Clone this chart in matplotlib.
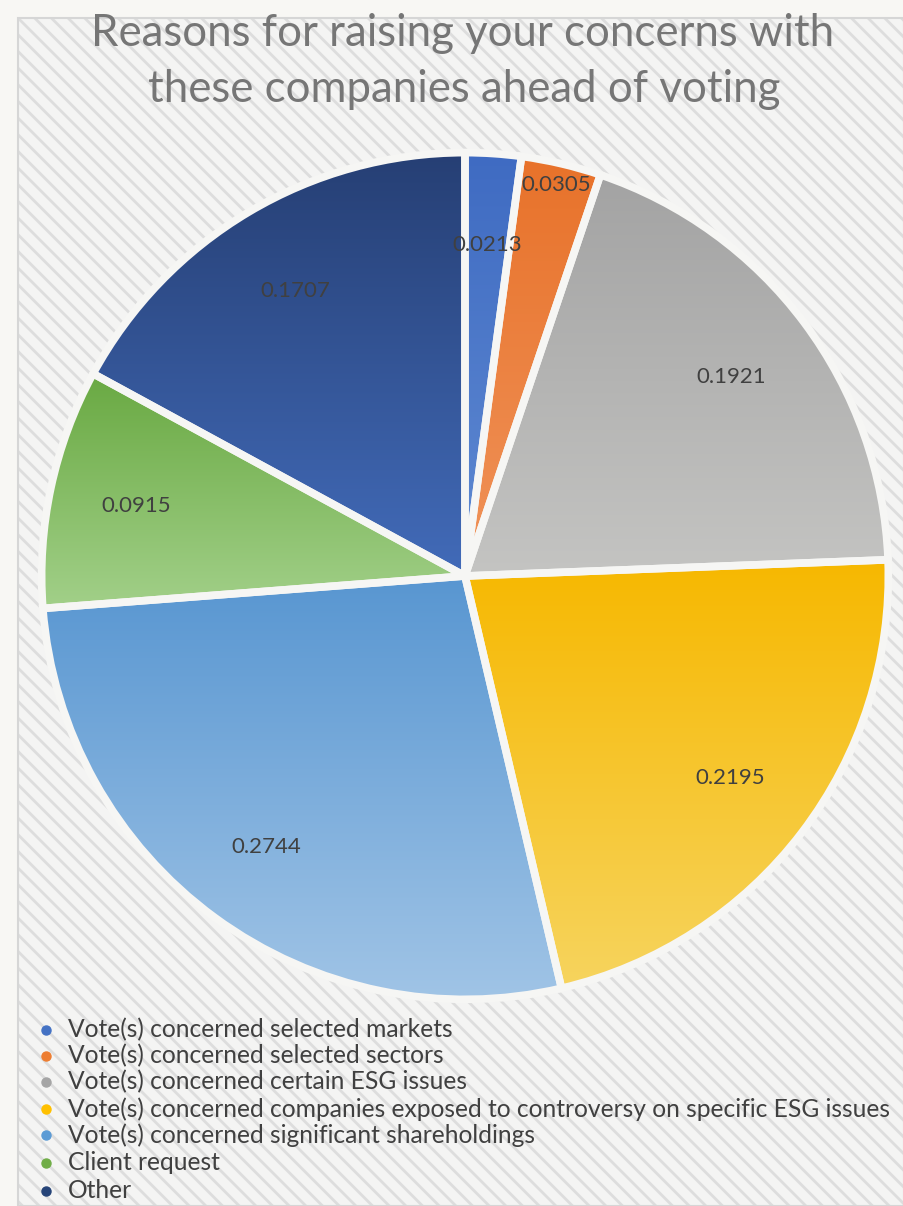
import matplotlib
matplotlib.use("Agg")
import matplotlib.pyplot as plt
import numpy as np
from matplotlib.patches import Rectangle
from matplotlib.colors import LinearSegmentedColormap

plt.rcParams['font.family'] = ['Lato', 'DejaVu Sans']
plt.rcParams['hatch.linewidth'] = 2.0

# Data
categories = [
    "Vote(s) concerned selected markets",
    "Vote(s) concerned selected sectors",
    "Vote(s) concerned certain ESG issues",
    "Vote(s) concerned companies exposed to controversy on specific ESG issues",
    "Vote(s) concerned significant shareholdings",
    "Client request",
    "Other",
]
shares = [0.0213, 0.0305, 0.1921, 0.2195, 0.2744, 0.0915, 0.1707]
value_labels = ["0.0213", "0.0305", "0.1921", "0.2195", "0.2744", "0.0915", "0.1707"]

# Slice colours: (top of gradient, bottom of gradient) and legend swatch
grad_top = ["#3f6bc2", "#e8722a", "#a3a3a3", "#f6b800", "#5896d1", "#69a942", "#263f74"]
grad_bot = ["#5f8ad2", "#f0935a", "#c4c4c2", "#f7d45e", "#a0c4e6", "#a2d089", "#426bb9"]
swatch = ["#4472c4", "#ed7d31", "#a5a5a5", "#ffc000", "#5b9bd5", "#70ad47", "#264478"]

W, H = 904, 1206
fig = plt.figure(figsize=(W / 100, H / 100), dpi=100)
fig.patch.set_facecolor("#f8f7f4")

# Chart area with diagonal stripes
x0, y0 = 18 / W, 0.0
fig.patches.append(Rectangle((x0, y0), 1 - x0, 1 - 18 / H, transform=fig.transFigure,
                             facecolor="#f4f4f3", edgecolor="#dddddd", hatch="\\\\",
                             linewidth=0, zorder=-2))
fig.patches.append(Rectangle((x0, y0), 1 - x0, 1 - 18 / H, transform=fig.transFigure,
                             facecolor="none", edgecolor="#d6d6d6", linewidth=1.5, zorder=-1))

# Title
fig.text(463 / W, 1 - 34 / H, "Reasons for raising your concerns with",
         ha="center", va="center", fontsize=31.5, color="#767676")
fig.text(464 / W, 1 - 89 / H, "these companies ahead of voting",
         ha="center", va="center", fontsize=31.5, color="#767676")

# Pie axes: centre (465, 576) px, radius ~422 px
R = 420
half = 440
cx, cy = 465, 576
ax = fig.add_axes([(cx - half) / W, (H - cy - half) / H, 2 * half / W, 2 * half / H])
ax.set_zorder(2)
ax.axis("off")
ax.patch.set_alpha(0)

wedges, _ = ax.pie(shares, startangle=90, counterclock=False, radius=1.008,
                   colors=swatch,
                   wedgeprops=dict(edgecolor="#f6f6f4", linewidth=5.5))

for i, w in enumerate(wedges):
    ext = w.get_path().get_extents()
    cmap = LinearSegmentedColormap.from_list("g%d" % i, [grad_bot[i], grad_top[i]])
    grad = np.linspace(0, 1, 256).reshape(-1, 1)
    im = ax.imshow(grad, cmap=cmap, aspect="auto", origin="lower",
                   extent=(ext.x0, ext.x1, ext.y0, ext.y1), zorder=1,
                   interpolation="bilinear")
    im.set_clip_path(w)
    w.set_facecolor("none")
    w.set_zorder(2)

ax.set_xlim(-half / R, half / R)
ax.set_ylim(-half / R, half / R)
ax.set_aspect("equal")

# Value labels
label_r = [0.79, 0.955, 0.79, 0.795, 0.80, 0.80, 0.79]
cum = np.cumsum([0] + shares[:-1])
for i, s in enumerate(shares):
    ang = np.deg2rad(90 - (cum[i] + s / 2) * 360)
    ax.text(label_r[i] * np.cos(ang), label_r[i] * np.sin(ang), value_labels[i],
            ha="center", va="center", fontsize=16, color="#404040", zorder=5)

# Legend
leg_y = [1030, 1056, 1082, 1109, 1135, 1163, 1191]
for i, name in enumerate(categories):
    yf = 1 - leg_y[i] / H
    fig.lines.append(plt.Line2D([46 / W], [yf], marker="o", markersize=6.5,
                                color=swatch[i], linestyle="none",
                                transform=fig.transFigure))
    fig.text(68 / W, yf, name, ha="left", va="center", fontsize=17.7, color="#404040")

fig.savefig("out.png", dpi=100, facecolor=fig.get_facecolor())
